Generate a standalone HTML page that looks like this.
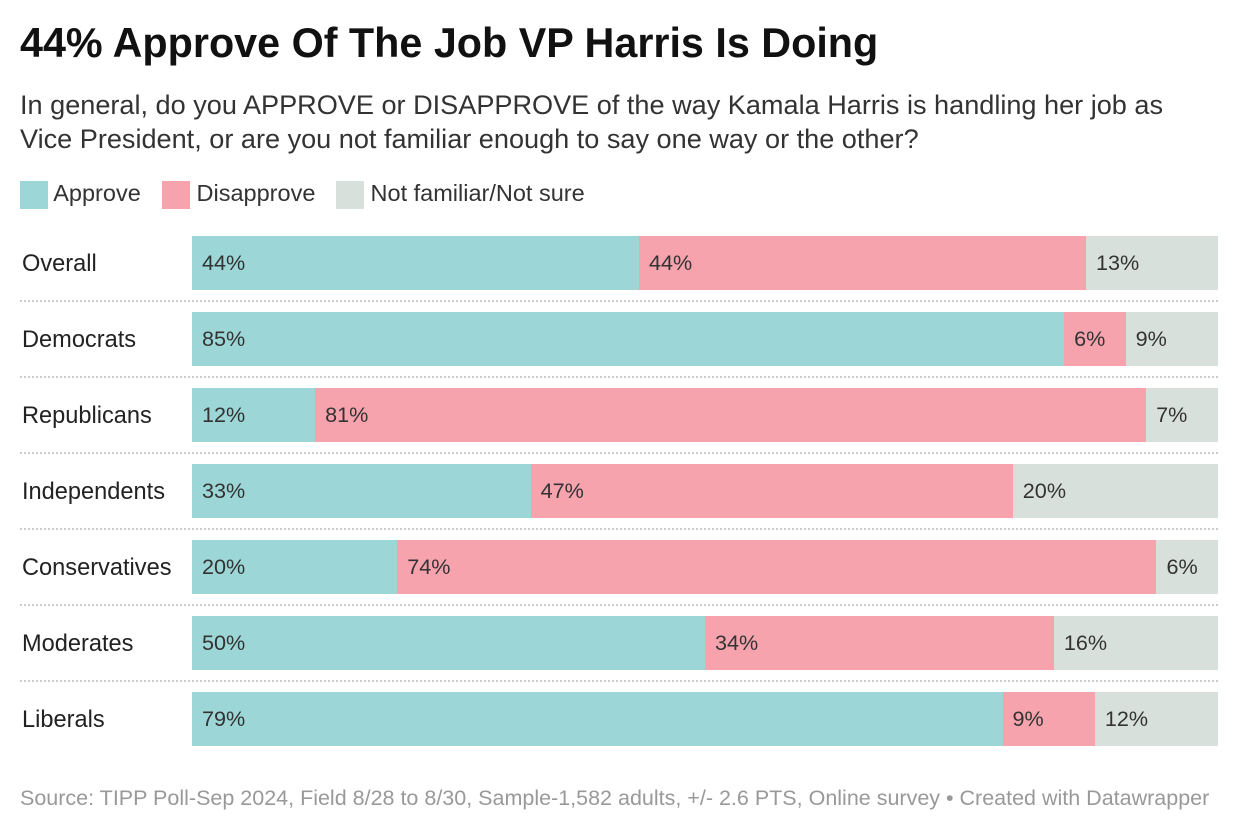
<!DOCTYPE html>
<html><head><meta charset="utf-8"><style>
body{margin:0;width:1240px;height:834px;background:#fff;font-family:"Liberation Sans",sans-serif;color:#222;position:relative;overflow:hidden}
.a{position:absolute;white-space:nowrap}
</style></head><body>
<div class="a" style="left:20px;top:20px;font-size:41.3px;font-weight:bold;color:#111">44% Approve Of The Job VP Harris Is Doing</div>
<div class="a" style="left:20px;top:88px;font-size:27.1px;line-height:34px;color:#333">In general, do you APPROVE or DISAPPROVE of the way Kamala Harris is handling her job as<br>Vice President, or are you not familiar enough to say one way or the other?</div>
<div class="a" style="left:20px;top:180px;font-size:23.5px;color:#333;height:30px">
<span style="position:absolute;left:0"><span style="display:inline-block;width:28px;height:28px;background:#9dd6d6;vertical-align:middle"></span> Approve</span>
<span style="position:absolute;left:142px"><span style="display:inline-block;width:28px;height:28px;background:#f6a3ae;vertical-align:middle"></span> Disapprove</span>
<span style="position:absolute;left:316px"><span style="display:inline-block;width:28px;height:28px;background:#d8e0db;vertical-align:middle"></span> Not familiar/Not sure</span>
</div>
<div id="chart"></div>
<div class="a" style="left:20px;top:786px;font-size:21.5px;color:#999">Source: TIPP Poll-Sep 2024, Field 8/28 to 8/30, Sample-1,582 adults, +/- 2.6 PTS, Online survey • Created with Datawrapper</div>
<script>
const categories=["Overall","Democrats","Republicans","Independents","Conservatives","Moderates","Liberals"];
const approve=[44,85,12,33,20,50,79];
const disapprove=[44,6,81,47,74,34,9];
const notSure=[13,9,7,20,6,16,12];
const chart=document.getElementById('chart');
const x0=192,W=1026,top0=236,step=76,h=54;
const colors=["#9dd6d6","#f6a3ae","#d8e0db"];
const names=["approve","disapprove","not-sure"];
categories.forEach((c,i)=>{
  const y=top0+i*step;
  const lab=document.createElement('div');
  lab.className='a';
  
  
  lab.style.cssText=`left:22px;top:${y+1}px;line-height:${h}px;font-size:23.6px;color:#222`;
  lab.textContent=c;chart.appendChild(lab);
  const vals=[approve[i],disapprove[i],notSure[i]];
  const tot=vals.reduce((a,b)=>a+b,0);
  let x=x0;
  vals.forEach((v,k)=>{
    const w=v/tot*W;
    const b=document.createElement('div');
    b.className='a';
    
    
    b.style.cssText=`left:${x}px;top:${y}px;width:${w}px;height:${h}px;background:${colors[k]};font-size:21.6px;line-height:${h}px;color:#333;box-sizing:border-box;padding-left:10px`;
    b.textContent=v+'%';
    chart.appendChild(b);
    x+=w;
  });
  if(i<categories.length-1){
    const s=document.createElement('div');
    s.className='a';
    
    
    s.style.cssText=`left:20px;top:${y+h+10}px;width:1198px;border-top:2px dotted #ccc`;
    chart.appendChild(s);
  }
});
</script>
</body></html>
